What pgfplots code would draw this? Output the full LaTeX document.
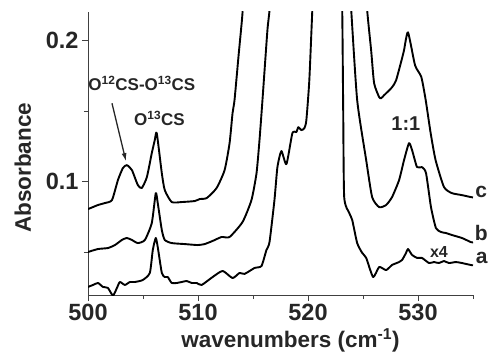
\documentclass[border=0pt]{standalone}
\usepackage{fontspec}
\setmainfont{Liberation Sans}
\usepackage{pgfplots}
\pgfplotsset{compat=1.18}
\usetikzlibrary{calc,arrows.meta}
\pgfplotsset{spec/.style={black, line width=1.9bp, smooth, tension=0.35, line join=round, mark=none}}
\begin{document}
\begin{tikzpicture}
\begin{axis}[
  scale only axis, width=385bp, height=283bp,
  xmin=500, xmax=535, ymin=0.02, ymax=0.22,
  axis x line*=bottom, axis y line*=left,
  axis line style={black!75, line width=0.8bp},
  xtick={500,510,520,530}, minor xtick={505,515,525,535},
  ytick={0.1,0.2}, minor ytick={0.05,0.15},
  tick align=outside,
  major tick length=6bp, minor tick length=4bp,
  every tick/.style={black!75, line width=0.8bp},
  every minor tick/.style={black!75, line width=0.8bp},
  tick label style={font=\fontsize{23.5bp}{27bp}\selectfont\bfseries, text=black!85},
  /pgf/number format/assume math mode=true,
  yticklabel style={/pgf/number format/fixed,/pgf/number format/precision=1},
  xticklabel style={/pgf/number format/1000 sep={}},
  xlabel={wavenumbers (cm\textsuperscript{-1})},
  ylabel={Absorbance},
  label style={font=\fontsize{22.5bp}{26bp}\selectfont\bfseries, text=black!85},
  xlabel style={at={(axis description cs:0.526,-0.2014)}, anchor=south, inner sep=0pt},
  ylabel style={at={(axis description cs:-0.169,0.449)}, anchor=center, inner sep=0pt},
  clip mode=individual,
]
\coordinate (sw) at (rel axis cs:0,0);
\coordinate (ne) at (rel axis cs:1,1);
% curve a
\addplot[spec] coordinates {
(500.00,0.0257)(500.45,0.0271)(500.91,0.0285)(501.36,0.0257)(501.81,0.0250)(502.27,0.0196)
(502.63,0.0250)(502.90,0.0292)(503.35,0.0271)(503.81,0.0292)(504.26,0.0292)(504.98,0.0306)
(505.62,0.0356)(505.89,0.0518)(506.16,0.0603)(506.34,0.0539)(506.71,0.0356)(506.98,0.0327)
(507.25,0.0327)(507.61,0.0285)(508.07,0.0285)(508.52,0.0292)(508.97,0.0299)(509.43,0.0285)
(509.88,0.0285)(510.33,0.0271)(511.33,0.0327)(512.24,0.0370)(513.14,0.0320)(513.78,0.0356)
(514.23,0.0349)(515.14,0.0391)(515.77,0.0405)(516.22,0.0518)(516.50,0.0574)(516.95,0.0871)
(517.22,0.1104)(517.58,0.1217)(518.04,0.1125)(518.58,0.1344)(518.94,0.1351)(519.12,0.1386)
(519.40,0.1365)(519.67,0.1379)(519.85,0.1435)(520.12,0.1718)(520.39,0.2212)(520.55,0.25)
(522.95,0.25)(523.11,0.2212)(523.20,0.1500)(523.29,0.0892)(523.75,0.0779)(524.02,0.0730)
(524.47,0.0567)(524.93,0.0497)(525.29,0.0462)(525.92,0.0327)(526.47,0.0398)(527.10,0.0376)
(527.64,0.0412)(528.28,0.0433)(528.55,0.0447)(528.91,0.0497)(529.09,0.0525)(529.46,0.0483)
(529.91,0.0462)(530.36,0.0462)(531.00,0.0426)(531.45,0.0433)(531.90,0.0426)(532.36,0.0440)
(532.81,0.0426)(533.45,0.0433)(533.99,0.0426)(534.80,0.0412)(535.00,0.0410)
};
% curve b
\addplot[spec] coordinates {
(500.00,0.0504)(500.91,0.0525)(501.81,0.0532)(502.45,0.0553)(503.08,0.0589)(503.53,0.0603)
(503.99,0.0589)(504.53,0.0567)(505.17,0.0589)(505.80,0.0709)(506.16,0.0920)(506.34,0.0850)
(506.71,0.0659)(506.98,0.0589)(507.61,0.0567)(508.79,0.0560)(509.97,0.0553)(510.60,0.0560)
(511.33,0.0582)(512.15,0.0610)(512.87,0.0610)(514.05,0.0716)(514.86,0.0871)(515.32,0.1061)
(515.59,0.1294)(515.86,0.1577)(516.31,0.2071)(516.50,0.2212)(516.70,0.25)
(523.70,0.25)(523.93,0.2212)(524.47,0.1577)(525.29,0.1153)(525.83,0.0892)(526.47,0.0821)
(527.10,0.0836)(527.64,0.0892)(528.28,0.1012)(528.73,0.1153)(529.18,0.1273)(529.46,0.1224)
(529.91,0.1104)(530.36,0.1104)(530.73,0.1061)(531.18,0.0821)(531.63,0.0673)(532.09,0.0645)
(532.54,0.0638)(533.08,0.0624)(533.99,0.0603)(534.80,0.0574)(535.00,0.0572)
};
% curve c
\addplot[spec] coordinates {
(500.00,0.0807)(500.91,0.0836)(501.54,0.0850)(502.18,0.0871)(502.72,0.1012)(503.17,0.1097)
(503.53,0.1118)(503.99,0.1083)(504.53,0.0977)(504.89,0.0956)(505.35,0.1033)(505.80,0.1203)
(506.07,0.1294)(506.25,0.1344)(506.71,0.1061)(506.98,0.0941)(507.61,0.0857)(508.52,0.0857)
(509.70,0.0864)(510.15,0.0878)(510.79,0.0885)(511.69,0.0956)(512.42,0.1083)(512.87,0.1273)
(513.14,0.1485)(513.32,0.1577)(513.69,0.1894)(514.05,0.2198)(514.20,0.25)
(525.20,0.25)(525.38,0.2212)(525.74,0.1929)(526.01,0.1697)(526.47,0.1598)(526.65,0.1591)
(526.92,0.1612)(527.64,0.1668)(528.01,0.1718)(528.55,0.1873)(528.73,0.1930)(529.09,0.2056)
(529.73,0.1824)(530.30,0.1741)(530.70,0.1577)(531.15,0.1344)(531.60,0.1153)(532.36,0.0963)
(533.08,0.0920)(533.99,0.0906)(534.80,0.0892)(535.00,0.0890)
};
% annotations
\node[font=\fontsize{17bp}{20bp}\selectfont\bfseries, text=black!85] at (axis cs:504.9,0.1697) {O\textsuperscript{12}CS-O\textsuperscript{13}CS};
\node[font=\fontsize{17bp}{20bp}\selectfont\bfseries, text=black!85] at (axis cs:506.5,0.1450) {O\textsuperscript{13}CS};
\draw[-{Latex[length=8bp,width=5bp]}, line width=1.3bp, black!85] (axis cs:502.18,0.1555) -- (axis cs:503.45,0.1146);
\node[font=\fontsize{20bp}{24bp}\selectfont\bfseries, text=black!85] at (axis cs:528.9,0.1414) {1:1};
\node[font=\fontsize{16bp}{19bp}\selectfont\bfseries, text=black!85] at (axis cs:531.9,0.0504) {x4};
\node[font=\fontsize{21bp}{24bp}\selectfont\bfseries, text=black!85] at (axis cs:535.75,0.0927) {c};
\node[font=\fontsize{21bp}{24bp}\selectfont\bfseries, text=black!85] at (axis cs:535.75,0.0638) {b};
\node[font=\fontsize{21bp}{24bp}\selectfont\bfseries, text=black!85] at (axis cs:535.8,0.0462) {a};
\end{axis}
\pgfresetboundingbox
\path[use as bounding box] ($(sw)+(-88bp,-58bp)$) rectangle ($(ne)+(22bp,12bp)$);
\end{tikzpicture}
\end{document}
